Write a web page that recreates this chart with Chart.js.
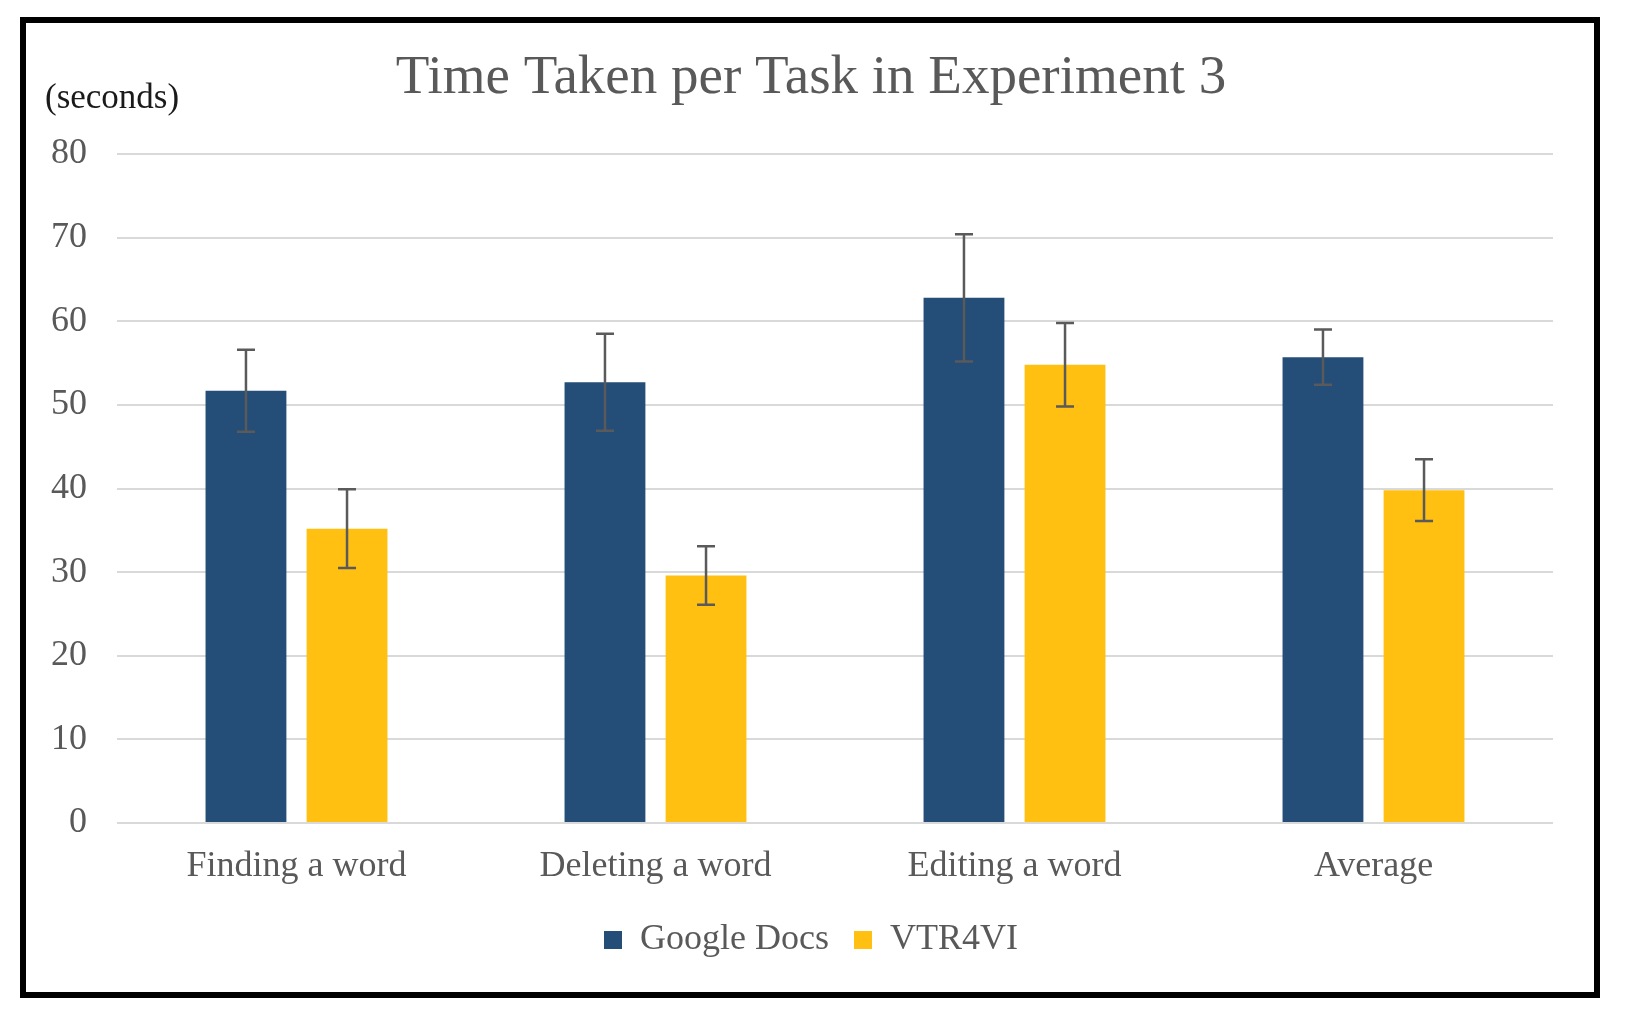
<!DOCTYPE html>
<html>
<head>
<meta charset="utf-8">
<script src="https://cdn.jsdelivr.net/npm/chart.js@4.4.1/dist/chart.umd.min.js"></script>
<style>
  html, body { margin: 0; padding: 0; background: #ffffff; }
  #wrap { position: relative; width: 1629px; height: 1026px; }
  #c { position: absolute; left: 0; top: 0; }
  #frame { position: absolute; left: 20px; top: 17px; width: 1580px; height: 981px;
           box-sizing: border-box; border: 6px solid #000; pointer-events: none; }
</style>
</head>
<body>
<div id="wrap">
  <canvas id="c" width="1629" height="1026"></canvas>
  <div id="frame"></div>
</div>
<script>
const chartTitle = 'Time Taken per Task in Experiment 3';
const unitLabel = '(seconds)';
const categories = ['Finding a word', 'Deleting a word', 'Editing a word', 'Average'];
const seriesNames = ['Google Docs', 'VTR4VI'];
const googleDocs = [51.7, 52.7, 62.8, 55.7];
const googleDocsErr = [4.9, 5.8, 7.6, 3.3];
const vtr4vi = [35.2, 29.6, 54.8, 39.8];
const vtr4viErr = [4.7, 3.5, 5.0, 3.7];
const yTicks = [0, 10, 20, 30, 40, 50, 60, 70, 80];

const FONT = "'Liberation Serif', 'Times New Roman', serif";
const TEXT = '#595959';

const errorBars = {
  id: 'errorBars',
  afterDatasetsDraw(chart) {
    const ctx = chart.ctx;
    const ys = chart.scales.y;
    chart.data.datasets.forEach((ds, i) => {
      const meta = chart.getDatasetMeta(i);
      meta.data.forEach((bar, j) => {
        const v = ds.data[j], e = ds.errors[j];
        const yTop = ys.getPixelForValue(v + e);
        const yBot = ys.getPixelForValue(v - e);
        const x = bar.x;
        const cap = 9;
        ctx.save();
        ctx.strokeStyle = '#5a5a5a';
        ctx.lineWidth = 2.5;
        ctx.beginPath();
        ctx.moveTo(x, yTop); ctx.lineTo(x, yBot);
        ctx.moveTo(x - cap, yTop); ctx.lineTo(x + cap, yTop);
        ctx.moveTo(x - cap, yBot); ctx.lineTo(x + cap, yBot);
        ctx.stroke();
        ctx.restore();
      });
    });
  }
};

const unitText = {
  id: 'unitText',
  afterDraw(chart) {
    const ctx = chart.ctx;
    const a = chart.chartArea;
    ctx.save();
    ctx.font = "35px " + FONT;
    ctx.fillStyle = '#1a1a1a';
    ctx.textAlign = 'left';
    ctx.textBaseline = 'middle';
    ctx.fillText(unitLabel, a.left - 72, a.top - 55);
    ctx.restore();
  }
};

new Chart(document.getElementById('c'), {
  type: 'bar',
  data: {
    labels: categories,
    datasets: [
      { label: seriesNames[0], data: googleDocs, errors: googleDocsErr,
        backgroundColor: '#244D77', borderWidth: 0, yAxisID: 'y' },
      { label: seriesNames[1], data: vtr4vi, errors: vtr4viErr,
        backgroundColor: '#FFC012', borderWidth: 0, yAxisID: 'y' }
    ]
  },
  options: {
    responsive: false,
    animation: false,
    devicePixelRatio: 1,
    layout: { padding: { left: 0, right: 7, top: 0, bottom: 58 } },
    datasets: { bar: { categoryPercentage: 0.563, barPercentage: 0.8 } },
    plugins: {
      title: {
        display: true, text: chartTitle, color: TEXT,
        font: { family: FONT, size: 55, weight: 'normal', lineHeight: 1.2 },
        padding: { top: 46, bottom: 42 }
      },
      legend: {
        position: 'bottom',
        labels: {
          color: TEXT, boxWidth: 18, boxHeight: 18, padding: 25,
          font: { family: FONT, size: 36 }
        }
      },
      tooltip: { enabled: false }
    },
    scales: {
      x: {
        grid: { display: false, drawTicks: false },
        border: { display: false },
        ticks: { color: TEXT, padding: 22, font: { family: FONT, size: 36 } },
        afterFit(s) { s.height = 74; }
      },
      y: {
        position: 'left',
        min: 0, max: 80,
        afterBuildTicks(s) { s.ticks = yTicks.map(v => ({ value: v })); },
        grid: { color: '#d9d9d9', lineWidth: 2, drawTicks: false },
        border: { display: false },
        ticks: { color: TEXT, padding: 30, font: { family: FONT, size: 36 } },
        afterFit(s) { s.width = 117; }
      },
      yRight: {
        position: 'right',
        min: 0, max: 80,
        grid: { display: false, drawTicks: false },
        border: { display: false },
        ticks: { display: false },
        afterFit(s) { s.width = 69; }
      }
    }
  },
  plugins: [errorBars, unitText]
});
</script>
</body>
</html>
